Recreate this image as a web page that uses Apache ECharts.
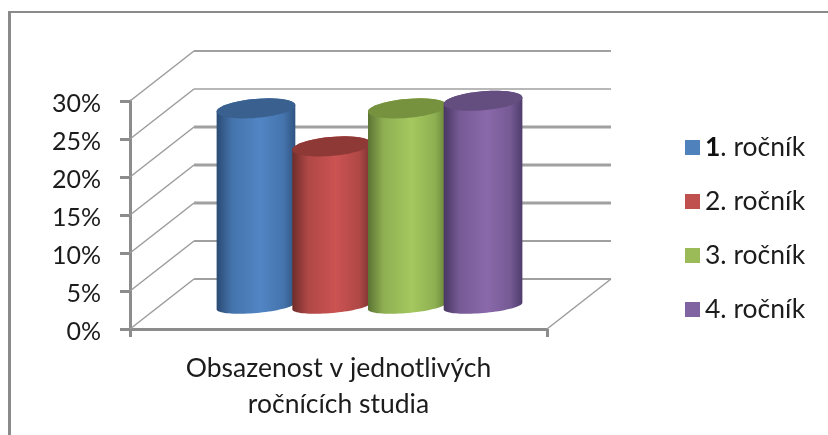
<!DOCTYPE html>
<html><head><meta charset="utf-8">
<style>html,body{margin:0;padding:0;background:#fff}#c{width:828px;height:435px}</style>
<script src="https://cdn.jsdelivr.net/npm/echarts@6/dist/echarts.min.js"></script>
</head><body><div id="c"></div>
<script>
const categories = ['Obsazenost v jednotlivých\nročnících studia'];
const seriesNames = ['1. ročník', '2. ročník', '3. ročník', '4. ročník'];
const values1 = [26];
const values2 = [21];
const values3 = [26];
const values4 = [27];
const tickValues = [0, 5, 10, 15, 20, 25, 30];
const allValues = [values1, values2, values3, values4];
const palette = [
  {edge:'#2a4b74', mid:'#5185c4', end:'#2f5482', top:'#3a6090'},
  {edge:'#6f2d2b', mid:'#cb5352', end:'#7a3331', top:'#8f3937'},
  {edge:'#5b7433', mid:'#a5c85f', end:'#678238', top:'#77923f'},
  {edge:'#483763', mid:'#8a69aa', end:'#4f3d6c', top:'#644d7f'}
];
const wallWidths = {0: 2.2, 5: 2, 10: 3, 15: 3, 20: 3, 25: 1.4, 30: 2.2};
const DX = 64, DY = -50, DEPTH_X = 31, DEPTH_Y = -23, RX = 39.5, RY_TOP = 9.5, RY_BOTTOM = 7, TILT = -5 * Math.PI / 180, STEP_RATIO = 0.1815;
const font = 'Lato';

function ring(cx, cy, ry, from, to, n) {
  const pts = [];
  for (let k = 0; k <= n; k++) {
    const t = from + (to - from) * k / n;
    const ex = RX * Math.cos(t), ey = ry * Math.sin(t);
    pts.push([cx + ex * Math.cos(TILT) - ey * Math.sin(TILT), cy + ex * Math.sin(TILT) + ey * Math.cos(TILT)]);
  }
  return pts;
}
function mix(a, b, t) {
  const p = s => [1, 3, 5].map(k => parseInt(s.substr(k, 2), 16));
  const A = p(a), B = p(b);
  return 'rgb(' + A.map((v, k) => Math.round(v + (B[k] - v) * t)).join(',') + ')';
}
function cylinder(i) {
  return function (params, api) {
    const band = api.size([1, 0])[0];
    const base = api.coord([0, 0]);
    const head = api.coord([0, api.value(1)]);
    const cx = base[0] + (i - 1.5) * band * STEP_RATIO + DEPTH_X;
    const c = palette[i];
    const bottom = ring(cx, base[1] + DEPTH_Y, RY_BOTTOM, 0, Math.PI, 40);
    const topBack = ring(cx, head[1] + DEPTH_Y, RY_TOP, Math.PI, 2 * Math.PI, 40);
    return {type: 'group', children: [
      {type: 'polygon', shape: {points: bottom.concat(topBack)}, style: {fill: new echarts.graphic.LinearGradient(0, 0, 1, 0, [
        {offset: 0, color: c.edge}, {offset: 0.2, color: mix(c.edge, c.mid, 0.7)}, {offset: 0.55, color: c.mid},
        {offset: 0.85, color: mix(c.end, c.mid, 0.65)}, {offset: 1, color: c.end}])}},
      {type: 'polygon', shape: {points: ring(cx, head[1] + DEPTH_Y, RY_TOP, 0, 2 * Math.PI, 60)}, style: {fill: c.top}}
    ]};
  };
}
function wall(params, api) {
  const v = api.value(1);
  const band = api.size([1, 0])[0];
  const c = api.coord([0, v]);
  const x0 = c[0] - band / 2, x1 = c[0] + band / 2, y = c[1];
  const kids = [
    {type: 'line', shape: {x1: x0, y1: y, x2: x0 + DX, y2: y + DY}, style: {stroke: '#9c9c9c', lineWidth: 1.5}},
    {type: 'line', shape: {x1: x0 + DX, y1: y + DY, x2: x1 + DX, y2: y + DY}, style: {stroke: '#a0a0a0', lineWidth: wallWidths[v]}}
  ];
  if (v === 0) kids.push({type: 'line', shape: {x1: x1, y1: y, x2: x1 + DX, y2: y + DY}, style: {stroke: '#9c9c9c', lineWidth: 1.5}});
  return {type: 'group', children: kids};
}

const chart = echarts.init(document.getElementById('c'), null, {renderer: 'canvas'});
chart.setOption({
  animation: false,
  backgroundColor: '#ffffff',
  graphic: [
    {type: 'rect', shape: {x: 8, y: 11, width: 3, height: 424}, style: {fill: '#8a8a8a'}, silent: true},
    {type: 'rect', shape: {x: 8, y: 11, width: 820, height: 2}, style: {fill: '#8a8a8a'}, silent: true}
  ],
  grid: {left: 130, right: 281, top: 101, bottom: 106},
  legend: {
    left: 680, top: 129, orient: 'vertical', icon: 'rect', itemWidth: 15, itemHeight: 15, itemGap: 27,
    data: seriesNames,
    formatter: name => name.charAt(0) === '1' ? '{b|1}' + name.slice(1) : name,
    textStyle: {fontFamily: font, fontSize: 26.5, color: '#1c1c1c', rich: {b: {fontFamily: font, fontSize: 26.5, fontWeight: 'bold', color: '#111'}}}
  },
  xAxis: {
    type: 'category', data: categories,
    axisLine: {lineStyle: {color: '#8c8c8c', width: 3}},
    axisTick: {show: true, length: 8, lineStyle: {color: '#8c8c8c', width: 3}},
    axisLabel: {margin: 21, fontFamily: font, fontSize: 26.5, lineHeight: 36, color: '#1c1c1c'}
  },
  yAxis: {
    type: 'value', min: 0, max: 30, interval: 5,
    splitLine: {show: false},
    axisLine: {show: true, lineStyle: {color: '#8c8c8c', width: 3}},
    axisTick: {show: true, length: 10, lineStyle: {color: '#8c8c8c', width: 3}},
    axisLabel: {margin: 29, fontFamily: font, fontSize: 25, color: '#1c1c1c', verticalAlign: 'top', lineHeight: 6, formatter: '{value}%'}
  },
  series: [
    {type: 'custom', name: '_walls', coordinateSystem: 'cartesian2d', clip: false, z: 1, silent: true,
     renderItem: wall, encode: {x: 0, y: 1}, data: tickValues.map(v => [0, v])}
  ].concat(allValues.map((vals, i) => ({
    type: 'custom', name: seriesNames[i], coordinateSystem: 'cartesian2d', clip: false, z: 3 + i,
    itemStyle: {color: ['#4f81bd', '#c0504d', '#9bbb59', '#8064a2'][i]},
    renderItem: cylinder(i), encode: {x: 0, y: 1}, data: vals.map((v, k) => [k, v])
  })))
});
</script></body></html>
